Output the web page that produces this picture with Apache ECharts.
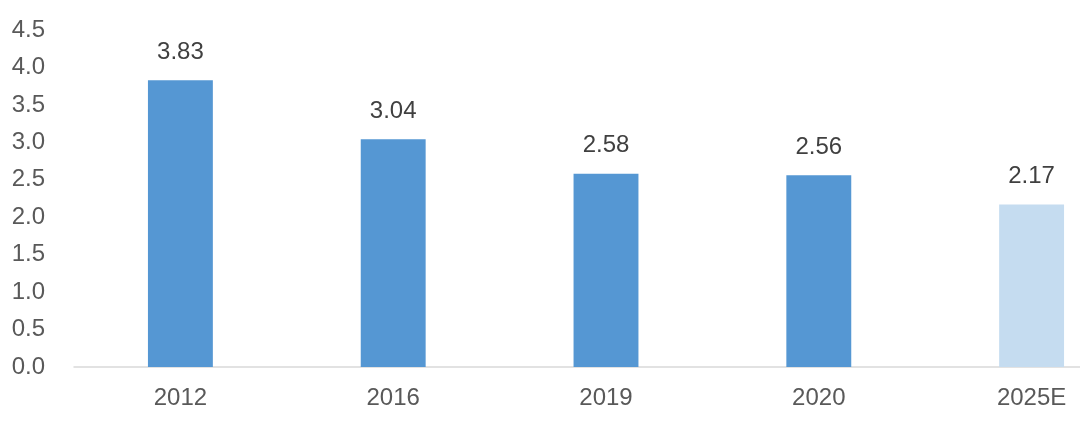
<!DOCTYPE html>
<html><head><meta charset="utf-8">
<script src="https://cdn.jsdelivr.net/npm/echarts@6/dist/echarts.min.js"></script>
<style>html,body{margin:0;padding:0;background:#fff;overflow:hidden}#c{width:1080px;height:424px}</style>
</head><body><div id="c"></div>
<script>
var categories = ['2012','2016','2019','2020','2025E'];
var values = [3.83, 3.04, 2.58, 2.56, 2.17];
var yTicks = [0, 4.5, 0.5];
var chart = echarts.init(document.getElementById('c'));
var font = '"Liberation Sans", Arial, sans-serif';
chart.setOption({
  animation: false,
  grid: {left: 74, right: -58, top: 30, bottom: 57, outerBoundsMode: 'none', containLabel: false},
  xAxis: {
    type: 'category', data: categories,
    axisLine: {lineStyle: {color: '#d9d9d9', width: 1.5}},
    axisTick: {show: false},
    axisLabel: {color: '#595959', fontSize: 24, fontFamily: font, margin: 19}
  },
  yAxis: {
    type: 'value', min: yTicks[0], max: yTicks[1], interval: yTicks[2],
    splitLine: {show: false},
    axisLine: {show: false}, axisTick: {show: false},
    axisLabel: {color: '#595959', fontSize: 24, fontFamily: font, margin: 29,
      formatter: function(v){ return v.toFixed(1); }}
  },
  series: [{
    type: 'bar', barWidth: '30.5%',
    data: values.map(function(v, i){
      return {value: v, itemStyle: {color: i === values.length - 1 ? '#C5DCF0' : '#5597D3'}};
    }),
    label: {show: true, position: 'top', distance: 16, color: '#404040', fontSize: 24, fontFamily: font,
      formatter: function(p){ return p.value.toFixed(2); }}
  }]
});
</script></body></html>
